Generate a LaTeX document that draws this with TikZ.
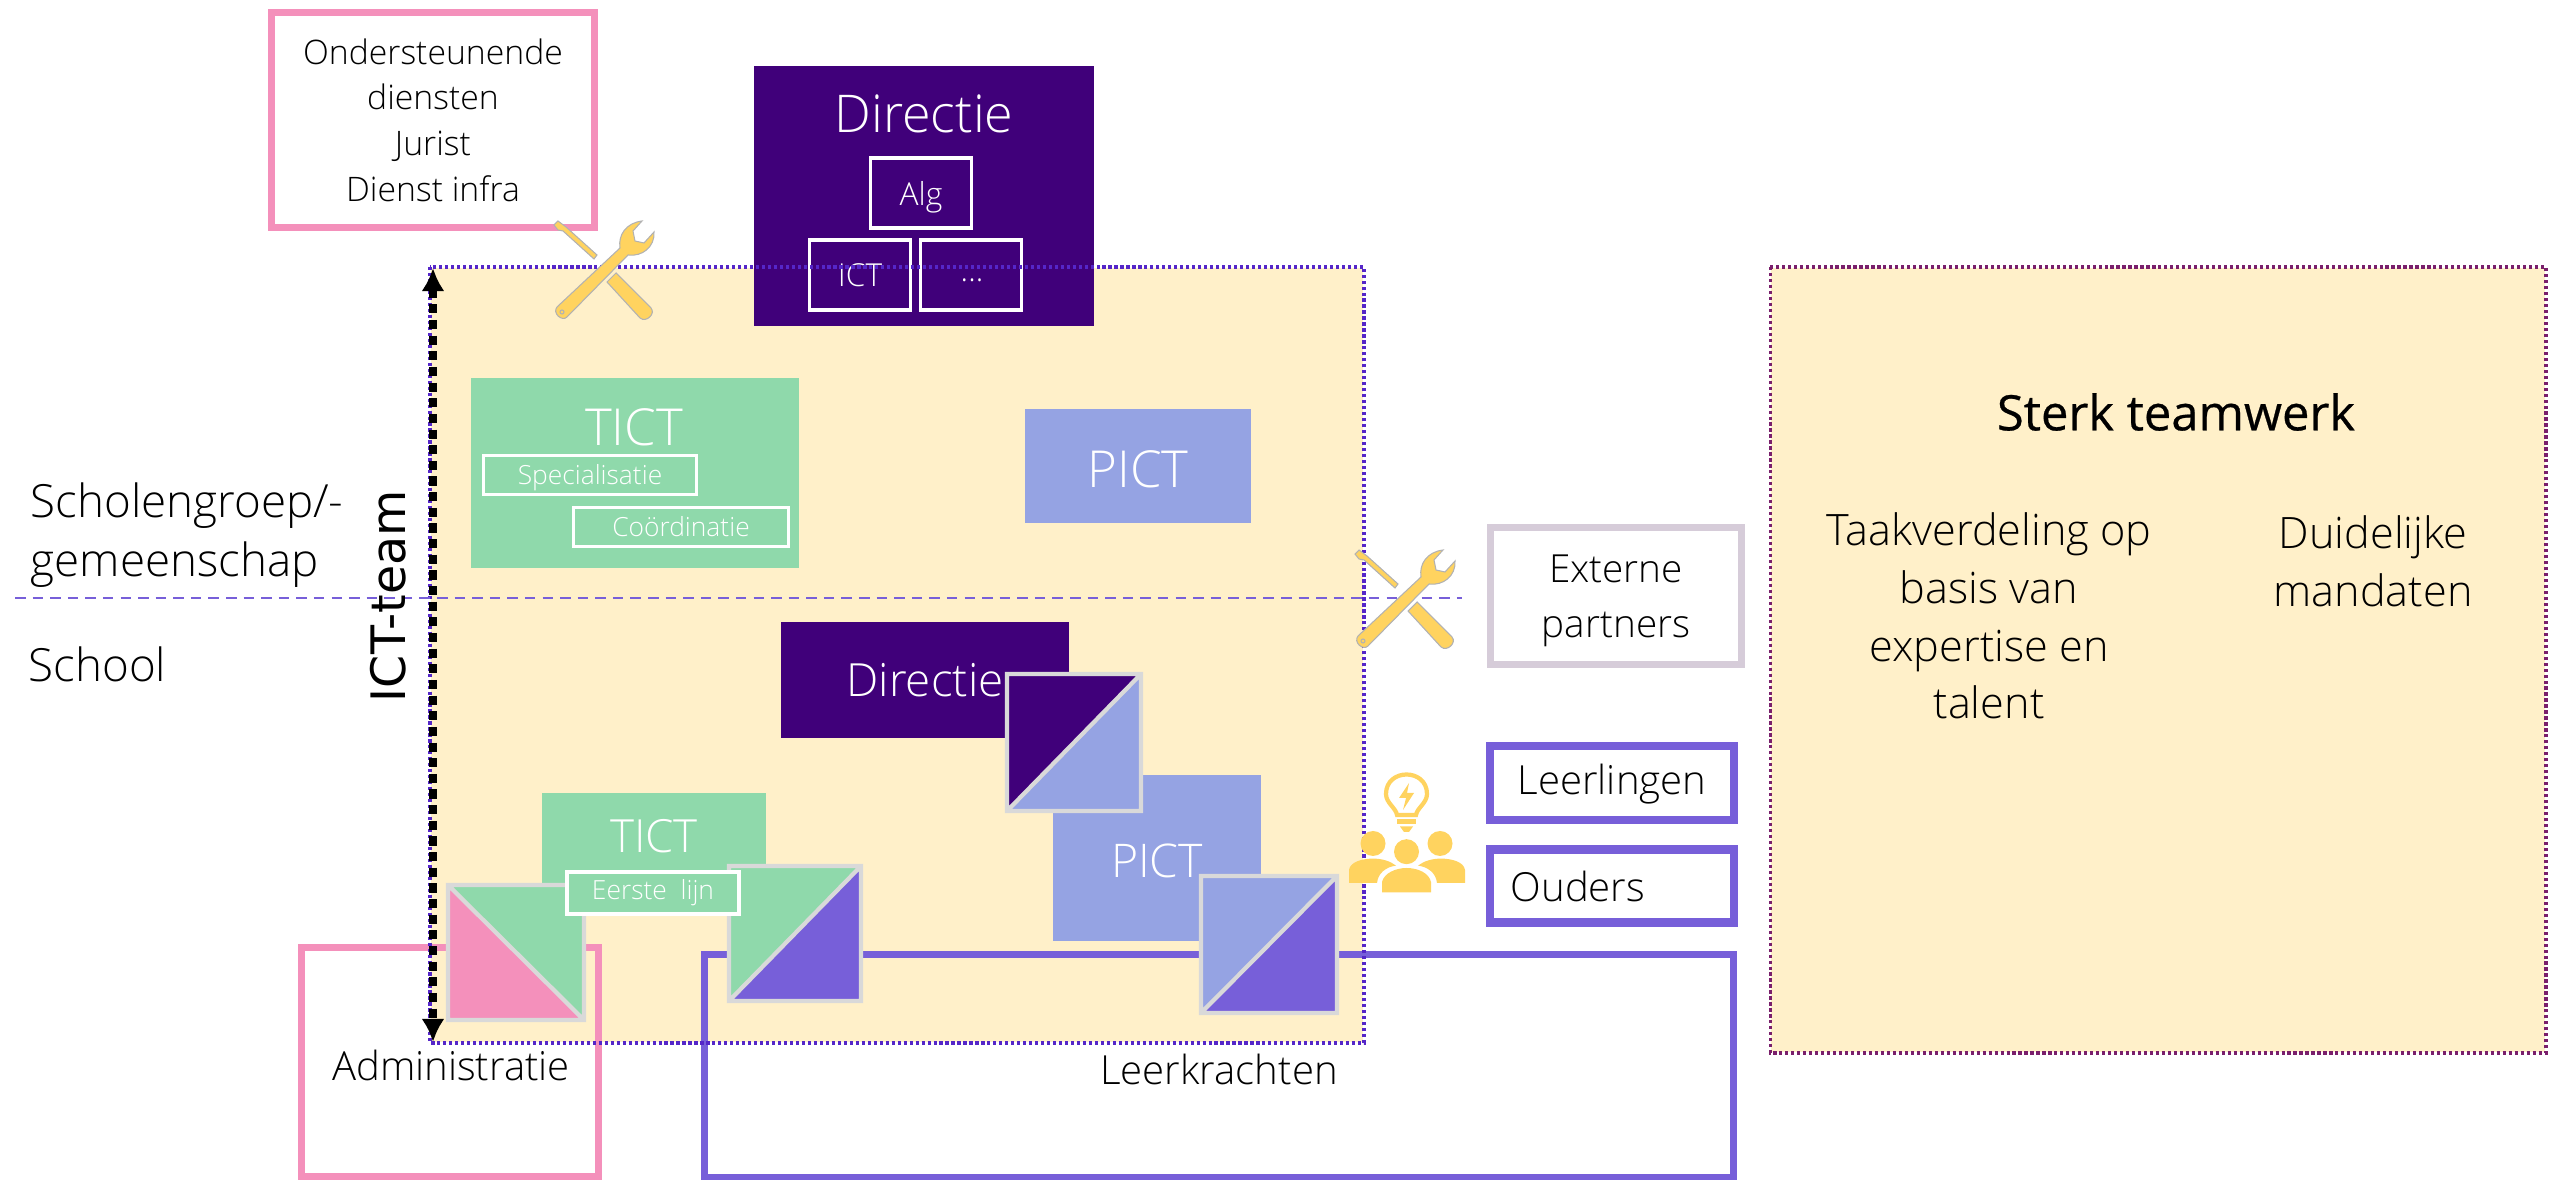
\documentclass[tikz,border=0pt]{standalone}
\usepackage{fontspec}
\setmainfont{Open Sans Light}
\newfontfamily\teamfont[FakeBold=0.5]{Open Sans}
\newfontfamily\scalefont{DejaVu Sans}
\usetikzlibrary{arrows.meta}

\definecolor{cTan}{HTML}{FFF0C9}
\definecolor{cDark}{HTML}{40007A}
\definecolor{cGreen}{HTML}{8FD9AB}
\definecolor{cBlue}{HTML}{95A3E3}
\definecolor{cPink}{HTML}{F490BB}
\definecolor{cPurple}{HTML}{775FD9}
\definecolor{cGold}{HTML}{FFD35F}
\definecolor{cGrey}{HTML}{D9D9D9}
\definecolor{cMauve}{HTML}{D6CCD9}
\definecolor{cDots}{HTML}{5526C8}
\definecolor{cMaroon}{HTML}{7A1F6B}

\tikzset{
  area/.style={fill=cTan,minimum width=9.32cm,minimum height=7.74cm,inner sep=0pt},
  solid box/.style={fill=#1,inner sep=0pt,text=white},
  line box/.style={draw=#1,line width=2pt,inner sep=0pt,align=center,text=black},
  tag box/.style={draw=white,line width=0.9pt,inner sep=0pt,text=white},
  label/.style={inner sep=0pt,text=black,align=center},
  split/.style={draw=cGrey,line width=1.2pt},
  dots/.style={dash pattern=on 0.9pt off 0.8pt,line width=0.9pt},
  tools/.pic={
    \begin{scope}[draw=gray!60,line width=0.3pt,fill=cGold]
      \filldraw (0,4) -- (4,0) -- (12,6) -- (43,34) -- (40,38) -- (9,10) -- (4,9) -- cycle;
      \filldraw (53,61) -- (62,52) -- (97,87) .. controls (102,93) and (92,102) .. (86,97) -- cycle;
      \filldraw (3,86) -- (66,27) .. controls (64,14) and (72,2) .. (88,0) -- (79,10) -- (81,20) -- (90,22) -- (100,11)
        .. controls (101,26) and (88,36) .. (74,34) -- (13,96) .. controls (8,101) and (-2,92) .. (3,86) -- cycle;
      \draw (8,91) circle (2);
    \end{scope}
  }
}

\begin{document}
\begin{tikzpicture}[x=0.01cm,y=-0.01cm,font=\fontsize{11.4pt}{15.5pt}\selectfont]
  \useasboundingbox (0,0) rectangle (2554,1180);

  % zones
  \node[area] (zone) at (897,655) {};
  \node[fill=cTan,draw=none,minimum width=7.74cm,minimum height=7.84cm,inner sep=0pt] (teamwork) at (2158,660) {};

  % outline boxes
  \node[line box=cPink,minimum width=3.22cm,minimum height=2.14cm,font=\fontsize{9.6pt}{13pt}\selectfont] (support) at (433,120)
    {Ondersteunende\\diensten\\Jurist\\Dienst infra};
  \node[line box=cPink,minimum width=2.97cm,minimum height=2.28cm] (admin) at (450,1062) {};
  \node[line box=cPurple,minimum width=10.29cm,minimum height=2.22cm] (teachers) at (1219,1066) {};
  \node[line box=cMauve,minimum width=2.50cm,minimum height=1.37cm] (external) at (1616,596) {};
  \node[label,font=\fontsize{11pt}{15.8pt}\selectfont] (externaltext) at (1616,601) {Externe\\partners};
  \node[line box=cPurple,line width=2.3pt,minimum width=2.44cm,minimum height=0.74cm] (pupils) at (1612,783) {};
  \node[label] (pupilstext) at (1612,784) {Leerlingen};
  \node[line box=cPurple,line width=2.3pt,minimum width=2.44cm,minimum height=0.73cm] (parents) at (1612,886) {};
  \node[label,anchor=west] (parentstext) at (1510,886) {Ouders};

  % board on top
  \node[solid box=cDark,minimum width=3.39cm,minimum height=2.59cm] (board) at (924,196) {};
  \node[label,text=white,font=\fontsize{14.8pt}{16pt}\selectfont] (boardtext) at (924,114) {Directie};
  \node[tag box,minimum width=1.01cm,minimum height=0.70cm] (alg) at (921,193) {};
  \node[label,text=white,font=\fontsize{9pt}{11pt}\selectfont] (algtext) at (921,197) {Alg};
  \node[tag box,minimum width=1.01cm,minimum height=0.70cm,font=\fontsize{9pt}{11pt}\selectfont] (ict) at (860,275) {ICT};
  \node[tag box,minimum width=1.01cm,minimum height=0.70cm] (more) at (971,275) {};
  \node[label,text=white,font=\fontsize{9pt}{11pt}\selectfont] (moretext) at (972,280) {...};

  % groups level
  \node[solid box=cGreen,minimum width=3.27cm,minimum height=1.90cm] (tictgroup) at (635,473) {};
  \node[label,text=white,font=\fontsize{14.5pt}{18pt}\selectfont] (tictgrouptext) at (634,427) {TICT};
  \node[tag box,minimum width=2.13cm,minimum height=0.39cm] (spec) at (590,475) {};
  \node[label,text=white,font=\fontsize{7.5pt}{9pt}\selectfont] (spectext) at (590,478) {Specialisatie};
  \node[tag box,minimum width=2.15cm,minimum height=0.39cm,font=\fontsize{7.5pt}{9pt}\selectfont] (coord) at (681,527) {Coördinatie};
  \node[solid box=cBlue,minimum width=2.26cm,minimum height=1.14cm] (pictgroup) at (1138,466) {};
  \node[label,text=white,font=\fontsize{14.5pt}{18pt}\selectfont] (pictgrouptext) at (1138,469) {PICT};

  % school level
  \node[solid box=cDark,minimum width=2.87cm,minimum height=1.15cm,font=\fontsize{13pt}{15pt}\selectfont] (boardschool) at (925,680) {Directie};
  \node[solid box=cBlue,minimum width=2.08cm,minimum height=1.65cm] (pictschool) at (1157,858) {};
  \node[label,text=white,font=\fontsize{13.2pt}{16pt}\selectfont] (pictschooltext) at (1157,861) {PICT};
  \node[solid box=cGreen,minimum width=2.24cm,minimum height=1.10cm] (tictschool) at (654,848) {};
  \node[label,text=white,font=\fontsize{13pt}{16pt}\selectfont] (tictschooltext) at (654,836) {TICT};

  % split squares
  \fill[cPink] (448,885) -- (448,1020) -- (584,1020) -- cycle;
  \fill[cGreen] (448,885) -- (584,885) -- (584,1020) -- cycle;
  \draw[split] (448,885) rectangle (584,1020) (448,885) -- (584,1020);

  \fill[cGreen] (729,866) -- (861,866) -- (729,1001) -- cycle;
  \fill[cPurple] (861,866) -- (861,1001) -- (729,1001) -- cycle;
  \draw[split] (729,866) rectangle (861,1001) (861,866) -- (729,1001);

  \fill[cDark] (1007,674) -- (1141,674) -- (1007,811) -- cycle;
  \fill[cBlue] (1141,674) -- (1141,811) -- (1007,811) -- cycle;
  \draw[split] (1007,674) rectangle (1141,811) (1141,674) -- (1007,811);

  \fill[cBlue] (1201,876) -- (1337,876) -- (1201,1013) -- cycle;
  \fill[cPurple] (1337,876) -- (1337,1013) -- (1201,1013) -- cycle;
  \draw[split] (1201,876) rectangle (1337,1013) (1337,876) -- (1201,1013);

  \node[tag box,fill=cGreen,minimum width=1.72cm,minimum height=0.42cm,font=\fontsize{7.5pt}{9pt}\selectfont] (firstline) at (653,893) {Eerste\ \ lijn};

  % dotted borders and level line
  \draw[cDots,dots] (zone.north west) rectangle (zone.south east);
  \draw[cMaroon,dots] (teamwork.north west) rectangle (teamwork.south east);
  \coordinate (levelstart) at (15,598);
  \coordinate (levelend) at (1462,598);
  \draw[cPurple,line width=0.8pt,dash pattern=on 3pt off 2pt] (levelstart) -- (levelend);

  % scale arrow
  \coordinate (scaletop) at (433,268);
  \coordinate (scalebottom) at (433,1042);
  \draw[{Latex[length=0.23cm,width=0.23cm]}-{Latex[length=0.23cm,width=0.23cm]},line width=2.3pt,dash pattern=on 2.6pt off 1.85pt] (scaletop) -- (scalebottom);

  % icons
  \pic at (554,221) {tools};
  \pic at (1355,550) {tools};

  \fill[cGold] (1373,843.5) circle (12.5) (1440,843.5) circle (12.5) (1406.5,851.7) circle (12.5);
  \fill[cGold] (1349,883) -- (1349,870) .. controls (1350,862) and (1362,858.6) .. (1373,858.6) .. controls (1382,858.6) and (1390,861) .. (1396,865.6) .. controls (1386,867) and (1378,873) .. (1377,883) -- cycle;
  \fill[cGold] (1465,883) -- (1465,870) .. controls (1464,862) and (1452,858.6) .. (1441,858.6) .. controls (1432,858.6) and (1424,861) .. (1418,865.6) .. controls (1428,867) and (1436,873) .. (1437,883) -- cycle;
  \fill[cGold] (1382,892.5) -- (1382,882) .. controls (1384,873) and (1396,868) .. (1406.5,868) .. controls (1418,868) and (1429,873) .. (1431,882) -- (1431,892.5) -- cycle;
  \draw[cGold,line width=1.2pt] (1397,815) .. controls (1396,808) and (1386,803) .. (1386,794) .. controls (1386,768) and (1427,768) .. (1427,794) .. controls (1427,803) and (1417,808) .. (1416,815) -- cycle;
  \fill[cGold] (1397,819.5) rectangle (1416,824);
  \fill[cGold] (1400,826.5) -- (1413,826.5) -- (1409,832) -- (1404,832) -- cycle;
  \fill[cGold] (1409,783) -- (1399,798) -- (1406,798) -- (1403,810) -- (1414,793) -- (1407,793) -- cycle;

  % free labels
  \node[label,font=\fontsize{13pt}{16.6pt}\selectfont,align=left,anchor=west] (grouplabel) at (30,535) {Scholengroep/-\\gemeenschap};
  \node[label,font=\fontsize{13pt}{16pt}\selectfont,anchor=west] (schoollabel) at (28,664) {School};
  \node[label,rotate=90,font=\fontsize{13.5pt}{18pt}\scalefont] (teamlabel) at (388,596) {ICT-team};
  \node[label] (adminlabel) at (451,1065) {Administratie};
  \node[label] (teacherslabel) at (1219,1069) {Leerkrachten};

  % right panel
  \node[label,font=\fontsize{13.9pt}{18pt}\teamfont] (strong) at (2176,412) {Sterk teamwerk};
  \node[label,font=\fontsize{12.3pt}{16.4pt}\selectfont] (tasks) at (1989,616) {Taakverdeling op\\basis van\\expertise en\\talent};
  \node[label,font=\fontsize{12.3pt}{16.4pt}\selectfont] (mandates) at (2373,561) {Duidelijke\\mandaten};
\end{tikzpicture}
\end{document}
